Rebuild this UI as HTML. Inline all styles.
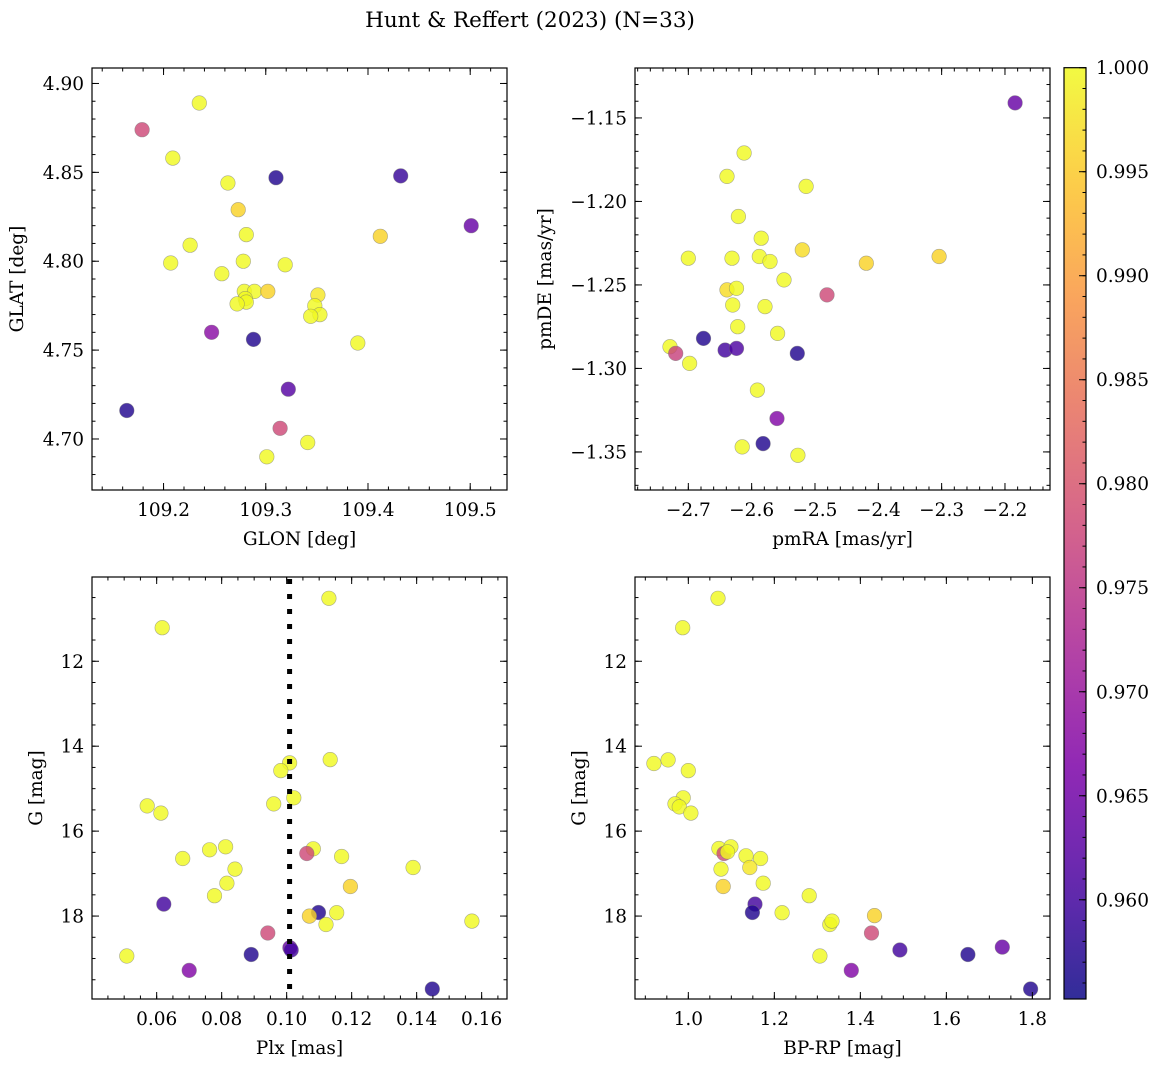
<!DOCTYPE html>
<html><head><meta charset="utf-8"><style>
html,body{margin:0;padding:0;background:#fff;}
svg{display:block;font-family:"DejaVu Serif","Liberation Serif",serif;}
</style></head><body>
<svg id="fig" width="1161" height="1067" viewBox="0 0 1161 1067" xmlns="http://www.w3.org/2000/svg">
<rect x="0" y="0" width="1161" height="1067" fill="#fff"/>
<text x="530" y="27" font-size="21.5" text-anchor="middle">Hunt &amp; Reffert (2023) (N=33)</text>
</svg>
<script>
// ---- data ----
const glon = [109.179,109.235,109.209,109.263,109.273,109.281,109.226,109.207,109.278,109.319,109.257,109.279,109.289,109.302,109.280,109.281,109.272,109.351,109.348,109.353,109.344,109.390,109.412,109.310,109.432,109.501,109.247,109.288,109.322,109.164,109.314,109.341,109.301];
const glat = [4.874,4.889,4.858,4.844,4.829,4.815,4.809,4.799,4.800,4.798,4.793,4.783,4.783,4.783,4.779,4.777,4.776,4.781,4.775,4.770,4.769,4.754,4.814,4.847,4.848,4.820,4.760,4.756,4.728,4.716,4.706,4.698,4.690];
const probA = [0.978,1,1,1,0.996,1,1,1,1,1,1,1,1,0.996,1,1,1,0.998,1,1,1,1,0.996,0.957,0.959,0.964,0.968,0.957,0.962,0.957,0.978,1,1];

const pmra = [-2.184,-2.612,-2.639,-2.514,-2.621,-2.585,-2.520,-2.700,-2.631,-2.588,-2.571,-2.419,-2.304,-2.549,-2.639,-2.624,-2.481,-2.630,-2.579,-2.622,-2.559,-2.676,-2.729,-2.720,-2.642,-2.624,-2.528,-2.698,-2.591,-2.560,-2.615,-2.582,-2.527];
const pmde = [-1.141,-1.171,-1.185,-1.191,-1.209,-1.222,-1.229,-1.234,-1.234,-1.233,-1.236,-1.237,-1.233,-1.247,-1.253,-1.252,-1.256,-1.262,-1.263,-1.275,-1.279,-1.282,-1.287,-1.291,-1.289,-1.288,-1.291,-1.297,-1.313,-1.330,-1.347,-1.345,-1.352];
const probB = [0.964,1,1,1,1,1,0.997,1,1,1,1,0.996,0.996,1,0.997,1,0.978,1,1,1,1,0.957,1,0.977,0.960,0.961,0.957,1,1,0.967,1,0.957,1];

const plx = [0.1130,0.0617,0.1009,0.0982,0.1134,0.1022,0.0960,0.0571,0.0613,0.1082,0.1062,0.1169,0.0812,0.0763,0.0680,0.0841,0.1389,0.0816,0.1196,0.0778,0.0622,0.1098,0.1154,0.1070,0.1121,0.1570,0.0942,0.1010,0.1014,0.0891,0.0508,0.0700,0.1448];
const gmagC = [10.518,11.209,14.393,14.574,14.315,15.216,15.358,15.405,15.576,16.416,16.527,16.598,16.369,16.440,16.645,16.894,16.856,17.226,17.304,17.520,17.718,17.915,17.922,18.000,18.198,18.118,18.400,18.746,18.800,18.904,18.941,19.280,19.718];
const probC = [1,1,1,1,1,1,1,1,1,1,0.978,1,1,1,1,1,1,1,0.996,1,0.960,0.957,1,0.996,1,1,0.978,0.964,0.960,0.957,1,0.967,0.957];
const plxRef = [0.1009];

const bprp = [1.069,0.987,0.920,0.953,1.000,0.988,0.969,0.979,1.006,1.071,1.083,1.099,1.091,1.134,1.168,1.076,1.143,1.174,1.081,1.281,1.155,1.149,1.218,1.433,1.329,1.334,1.426,1.730,1.492,1.650,1.306,1.379,1.796];
const gmagD = [10.518,11.209,14.408,14.323,14.574,15.216,15.358,15.43,15.576,16.41,16.527,16.369,16.49,16.58,16.645,16.894,16.856,17.226,17.304,17.520,17.718,17.915,17.922,17.99,18.198,18.118,18.400,18.73,18.800,18.904,18.941,19.280,19.718];
const probD = [1,1,1,1,1,1,1,1,1,1,0.978,1,1,1,1,1,0.998,1,0.996,1,0.960,0.957,1,0.996,1,1,0.978,0.964,0.960,0.957,1,0.967,0.957];

const ticksGlon = [109.2,109.3,109.4,109.5];
const ticksGlat = [4.70,4.75,4.80,4.85,4.90];
const ticksPmra = [-2.7,-2.6,-2.5,-2.4,-2.3,-2.2];
const ticksPmde = [-1.35,-1.30,-1.25,-1.20,-1.15];
const ticksPlx = [0.06,0.08,0.10,0.12,0.14,0.16];
const ticksG = [12,14,16,18];
const ticksBprp = [1.0,1.2,1.4,1.6,1.8];
const ticksCbar = [0.960,0.965,0.970,0.975,0.980,0.985,0.990,0.995,1.000];

// ---- helpers ----
const svg = document.getElementById('fig');
const NS = 'http://www.w3.org/2000/svg';
function mk(tag, attrs, parent){const e=document.createElementNS(NS,tag);for(const k in attrs)e.setAttribute(k,attrs[k]);(parent||svg).appendChild(e);return e;}
const stops=[[0,[13,8,135]],[0.125,[75,3,161]],[0.25,[125,3,168]],[0.375,[168,34,150]],[0.5,[203,70,121]],[0.625,[229,107,93]],[0.75,[248,148,65]],[0.875,[253,195,40]],[1,[240,249,33]]];
function plasma(t){t=Math.max(0,Math.min(1,t));for(let i=1;i<stops.length;i++){if(t<=stops[i][0]){const a=stops[i-1],b=stops[i];const f=(t-a[0])/(b[0]-a[0]);const c=a[1].map((v,j)=>Math.round(v+(b[1][j]-v)*f));return `rgb(${c[0]},${c[1]},${c[2]})`;}}return 'rgb(240,249,33)';}
const CMIN=0.95523, CMAX=1.0;
const FS=18.5;
function fmt(v,d){return (v<0?'\u2212':'')+Math.abs(v).toFixed(d);}

function panel(name, box, xd, yd, xt, yt, xminor, yminor, xdec, ydec, xlabel, xs, ys, ps){
  const [L,T,R,B]=box;
  const X=v=>L+(v-xd[0])/(xd[1]-xd[0])*(R-L);
  const Y=v=>B-(v-yd[0])/(yd[1]-yd[0])*(B-T);
  const g=mk('g',{});
  
  
  const pts=mk('g',{},g);
  
  
  for(let i=0;i<xs.length;i++){
    const c=mk('circle',{cx:X(xs[i]).toFixed(1),cy:Y(ys[i]).toFixed(1),r:7.3,fill:plasma((ps[i]-CMIN)/(CMAX-CMIN)),'fill-opacity':0.82,stroke:'#777','stroke-opacity':0.6,'stroke-width':0.6},pts);
    
    
  }
  const fr=mk('rect',{x:L,y:T,width:R-L,height:B-T,fill:'none',stroke:'#000','stroke-width':1.2},g);
  
  
  const tk=mk('g',{stroke:'#000','stroke-width':1},g);
  const lo=Math.min(xd[0],xd[1]), hi=Math.max(xd[0],xd[1]);
  for(let v=Math.ceil(lo/xminor-1e-6)*xminor; v<=hi+1e-9; v+=xminor){const x=X(v);mk('line',{x1:x,y1:B,x2:x,y2:B-3.5},tk);mk('line',{x1:x,y1:T,x2:x,y2:T+3.5},tk);}
  const ylo=Math.min(yd[0],yd[1]), yhi=Math.max(yd[0],yd[1]);
  for(let v=Math.ceil(ylo/yminor-1e-6)*yminor; v<=yhi+1e-9; v+=yminor){const y=Y(v);mk('line',{x1:L,y1:y,x2:L+3.5,y2:y},tk);mk('line',{x1:R,y1:y,x2:R-3.5,y2:y},tk);}
  xt.forEach(v=>{const x=X(v);mk('line',{x1:x,y1:B,x2:x,y2:B-7},tk);mk('line',{x1:x,y1:T,x2:x,y2:T+7},tk);
    const t=mk('text',{x:x,y:B+26,'font-size':FS,'text-anchor':'middle'},g);t.textContent=fmt(v,xdec);
    
    });
  yt.forEach(v=>{const y=Y(v);mk('line',{x1:L,y1:y,x2:L+7,y2:y},tk);mk('line',{x1:R,y1:y,x2:R-7,y2:y},tk);
    const t=mk('text',{x:L-8,y:y+6.5,'font-size':FS,'text-anchor':'end'},g);t.textContent=fmt(v,ydec);
    
    });
  const xl=mk('text',{x:(L+R)/2,y:B+55,'font-size':FS,'text-anchor':'middle'},g);xl.textContent=xlabel;
  
  
  return {g,X,Y,L,T,R,B};
}
function ylab(p,x,text,name){const t=mk('text',{x:x,y:(p.T+p.B)/2,'font-size':FS,'text-anchor':'middle',transform:`rotate(-90 ${x} ${(p.T+p.B)/2})`},p.g);t.textContent=text;
  
  }

const pA=panel('glon-glat',[92,68,507,490],[109.130,109.536],[4.6713,4.9087],ticksGlon,ticksGlat,0.02,0.01,1,2,'GLON [deg]',glon,glat,probA);
ylab(pA,23,'GLAT [deg]','glat-axis-title');
const pB=panel('pm',[635,68,1050,490],[-2.7842,-2.1289],[-1.3728,-1.1201],ticksPmra,ticksPmde,0.02,0.01,1,2,'pmRA [mas/yr]',pmra,pmde,probB);
ylab(pB,551,'pmDE [mas/yr]','pmde-axis-title');
const pC=panel('plx-g',[92,577,507,999],[0.0401,0.1678],[19.953,10.016],ticksPlx,ticksG,0.005,0.5,2,0,'Plx [mas]',plx,gmagC,probC);
ylab(pC,42,'G [mag]','g-axis-title-left');
const pD=panel('cmd',[635,577,1050,999],[0.876,1.841],[19.953,10.016],ticksBprp,ticksG,0.05,0.5,1,0,'BP-RP [mag]',bprp,gmagD,probD);
ylab(pD,585,'G [mag]','g-axis-title-right');

const rl=mk('line',{x1:pC.X(plxRef[0]),y1:pC.T+2,x2:pC.X(plxRef[0]),y2:pC.B,stroke:'#000','stroke-width':5,'stroke-dasharray':'5 10'},pC.g);



const defs=mk('defs',{});
const lg=mk('linearGradient',{id:'cg',x1:0,y1:1,x2:0,y2:0},defs);
for(let i=0;i<=20;i++){mk('stop',{offset:(i/20),'stop-color':plasma(i/20),'stop-opacity':0.85},lg);}
const CB={L:1064,R:1086,T:67.7,B:999};
const cy=v=>CB.B-(v-CMIN)/(CMAX-CMIN)*(CB.B-CB.T);
const cbg=mk('g',{});


mk('rect',{x:CB.L,y:CB.T,width:CB.R-CB.L,height:CB.B-CB.T,fill:'url(#cg)',stroke:'#000','stroke-width':1.2},cbg);
for(let v=0.956;v<=1.0000001;v+=0.001){mk('line',{x1:CB.R,y1:cy(v),x2:CB.R-3.5,y2:cy(v),stroke:'#000'},cbg);}
ticksCbar.forEach(v=>{mk('line',{x1:CB.R,y1:cy(v),x2:CB.R-7,y2:cy(v),stroke:'#000'},cbg);
  const t=mk('text',{x:CB.R+10,y:cy(v)+6.5,'font-size':FS},cbg);t.textContent=v.toFixed(3);
  
  });
</script>
</body></html>
